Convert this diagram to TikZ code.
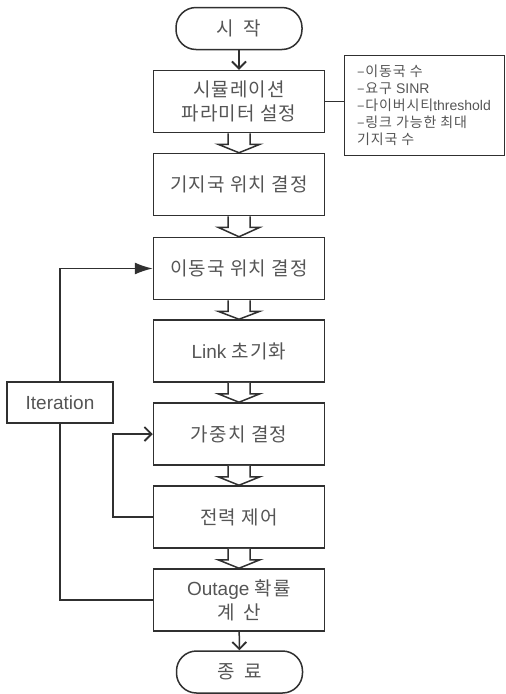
\documentclass[tikz,border=0pt]{standalone}
\usepackage{fontspec}
\setmainfont{Noto Sans CJK KR}[LetterSpace=6]
\newfontfamily\latin{Liberation Sans}
\usetikzlibrary{arrows.meta,calc}
\definecolor{txt}{HTML}{555555}
\definecolor{ln}{HTML}{303030}
\tikzset{
  box/.style={draw=ln, line width=1.5pt, minimum width=171pt, minimum height=62pt, align=center, text=txt, font=\fontsize{19}{24}\selectfont, inner sep=0pt},
  term/.style={draw=ln, line width=1.5pt, rounded corners=20pt, minimum width=126pt, minimum height=42pt, text=txt, font=\fontsize{19}{24}\selectfont, inner sep=0pt},
  sidebox/.style={draw=ln, line width=1pt, minimum width=160pt, minimum height=100pt, align=left, text=txt, font=\fontsize{14}{17}\selectfont, inner sep=0pt},
  itbox/.style={draw=ln, line width=1.5pt, minimum width=106pt, minimum height=41pt, text=txt, font=\fontsize{19}{24}\selectfont, inner sep=0pt},
  conn/.style={draw=ln, line width=1.5pt},
  hollowarr/.style={draw=ln, line width=1.5pt, fill=white},
  barb/.style={conn, -{Straight Barb[length=7pt,width=14pt,line width=1.8pt]}},
  solidtip/.style={conn, -{Latex[length=18pt,width=12pt]}}
}
\newcommand\hollowArrow[2]{%
  \draw[hollowarr] ($(#1.south)+(-11,0)$) -- ($(#1.south)+(-11,11)$) -- ($(#1.south)+(-21,11)$) -- (#2.north) -- ($(#1.south)+(21,11)$) -- ($(#1.south)+(11,11)$) -- ($(#1.south)+(11,0)$);}
\begin{document}
\begin{tikzpicture}[x=1pt,y=-1pt]
\useasboundingbox (0,0) rectangle (506,694);
\node[term] (start) at (239,28.5) {시\hspace{10pt}작};
\node[box] (b1) at (239,101.5) {시뮬레이션\\파라미터 설정};
\node[box] (b2) at (239,184.5) {기지국 위치 결정};
\node[box] (b3) at (239,268.5) {이동국 위치 결정};
\node[box] (b4) at (239,351) {{\latin Link} 초기화};
\node[box] (b5) at (239,434) {가중치 결정};
\node[box] (b6) at (239,517) {전력 제어};
\node[box] (b7) at (239,600) {{\latin Outage} 확률\\계\hspace{8pt}산};
\node[term] (end) at (239.5,672) {종\hspace{10pt}료};
\node[sidebox] (side) at (424,105) {–이동국 수\\–요구 {\latin SINR}\\–다이버시티{\latin threshold}\\–링크 가능한 최대\\기지국 수};
\node[itbox] (iter) at (60,402.5) {\latin Iteration};
\draw[barb] (start) -- (b1);
\draw[barb] (b7) -- (end);
\hollowArrow{b1}{b2}
\hollowArrow{b2}{b3}
\hollowArrow{b3}{b4}
\hollowArrow{b4}{b5}
\hollowArrow{b5}{b6}
\hollowArrow{b6}{b7}
\draw[conn, line width=1pt] (b1.east) -- (b1.east -| side.west);
\draw[conn] (b7.west) -| (iter.south);
\draw[solidtip] (iter.north) |- (b3.west);
\coordinate (lp) at (113,0);
\draw[barb] (b6.west) -- (b6.west -| lp) |- (b5.west);
\end{tikzpicture}
\end{document}
